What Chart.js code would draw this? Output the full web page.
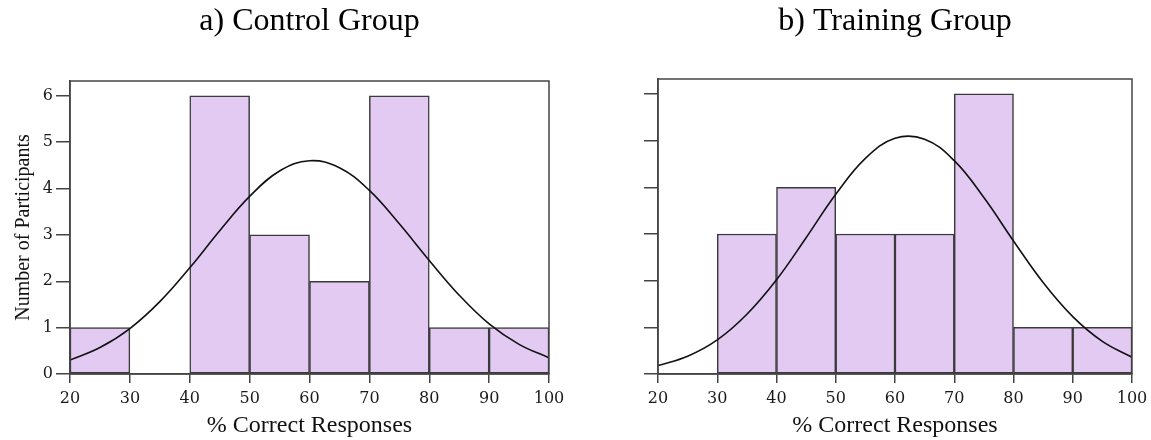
<!DOCTYPE html>
<html>
<head>
<meta charset="utf-8">
<script src="https://cdn.jsdelivr.net/npm/chart.js@4.4.1/dist/chart.umd.min.js"></script>
<style>
  html, body { margin: 0; padding: 0; background: #fff; overflow: hidden; }
  #wrap { position: relative; width: 1151px; height: 440px; overflow: hidden; }
  .box { position: absolute; top: 0; height: 440px; }
</style>
</head>
<body>
<div id="wrap">
  <div class="box" style="left:0;width:575px"><canvas id="controlChart"></canvas></div>
  <div class="box" style="left:575px;width:579px"><canvas id="trainingChart"></canvas></div>
</div>
<script>
// histogram bins (% correct), 10 wide
const binStarts = [20, 30, 40, 50, 60, 70, 80, 90];
const binWidth = 10;
const controlCounts = [1, 0, 6, 3, 2, 6, 1, 1];
const trainingCounts = [0, 3, 4, 3, 3, 6, 1, 1];

// fitted normal curves, every 5%
const curveX = [20, 25, 30, 35, 40, 45, 50, 55, 60, 65, 70, 75, 80, 85, 90, 95, 100];
const controlCurve = [0.30, 0.57, 0.98, 1.56, 2.29, 3.09, 3.83, 4.38, 4.60, 4.45, 3.96, 3.24, 2.45, 1.70, 1.08, 0.64, 0.35];
const trainingCurve = [0.18, 0.38, 0.73, 1.28, 2.02, 2.92, 3.85, 4.62, 5.05, 5.03, 4.57, 3.78, 2.85, 1.96, 1.23, 0.70, 0.36];

const xTickMin = 20, xTickMax = 100, xTickStep = 10;
const yTickStep = 1;

const axisColor = '#444';
const barFill = '#e3caf3';

// top + right sides of the plot box
const framePlugin = {
  id: 'frame',
  afterDraw(chart) {
    const { ctx, chartArea: a } = chart;
    ctx.save();
    ctx.strokeStyle = axisColor;
    ctx.lineWidth = 1.5;
    ctx.strokeRect(a.left, a.top, a.right - a.left, a.bottom - a.top);
    ctx.restore();
  }
};

function makeChart(id, titleText, counts, curve, opts) {
  return new Chart(document.getElementById(id), {
    type: 'bar',
    data: {
      datasets: [
        {
          type: 'line',
          data: curveX.map((x, i) => ({ x: x, y: curve[i] })),
          borderColor: '#111',
          borderWidth: 1.6,
          pointRadius: 0,
          tension: 0.4,
          fill: false,
          order: 0
        },
        {
          data: binStarts.map((s, i) => ({ x: s + binWidth / 2, y: counts[i] })),
          backgroundColor: barFill,
          borderColor: '#3a3a3a',
          borderWidth: 1.5,
          borderSkipped: false,
          barPercentage: 1,
          categoryPercentage: 1,
          order: 1
        }
      ]
    },
    options: {
      responsive: true,
      maintainAspectRatio: false,
      animation: false,
      devicePixelRatio: 1,
      layout: { padding: { left: 0, right: opts.rightPad, top: 0, bottom: 0 } },
      plugins: {
        legend: { display: false },
        tooltip: { enabled: false },
        title: {
          display: true,
          text: titleText,
          fullSize: false,
          color: '#000',
          font: { family: 'Liberation Serif', size: 32, weight: 'normal' },
          padding: { top: 2, bottom: opts.titleBottom }
        }
      },
      scales: {
        x: {
          type: 'linear',
          min: xTickMin,
          max: xTickMax,
          offset: false,
          afterFit: (scale) => { scale.height = 66; },
          ticks: {
            stepSize: xTickStep,
            color: '#1a1a1a',
            padding: 6,
            font: { family: 'DejaVu Serif', size: 16 }
          },
          grid: { offset: false, drawOnChartArea: false, tickLength: 9, color: axisColor, lineWidth: 1.5 },
          border: { color: axisColor, width: 1.5 },
          title: {
            display: true,
            text: '% Correct Responses',
            color: '#111',
            font: { family: 'Liberation Serif', size: 24 },
            padding: { top: 0, bottom: 0 }
          }
        },
        y: {
          min: 0,
          max: 6.32,
          afterFit: (scale) => { scale.width = opts.yWidth; },
          ticks: {
            display: opts.showY,
            stepSize: yTickStep,
            includeBounds: false,
            color: '#1a1a1a',
            padding: 3,
            font: { family: 'DejaVu Serif', size: 16 }
          },
          grid: { drawOnChartArea: false, tickLength: 14, color: axisColor, lineWidth: 1.5 },
          border: { color: axisColor, width: 1.5 },
          title: {
            display: opts.showY,
            text: 'Number of Participants',
            color: '#111',
            font: { family: 'Liberation Serif', size: 20 },
            padding: { top: 12, bottom: 0 }
          }
        }
      }
    },
    plugins: [framePlugin]
  });
}

makeChart('controlChart', 'a) Control Group', controlCounts, controlCurve,
  { rightPad: 26, yWidth: 70, showY: true, titleBottom: 40.6 });

makeChart('trainingChart', 'b) Training Group', trainingCounts, trainingCurve,
  { rightPad: 22, yWidth: 83, showY: false, titleBottom: 38.6 });
</script>
</body>
</html>
